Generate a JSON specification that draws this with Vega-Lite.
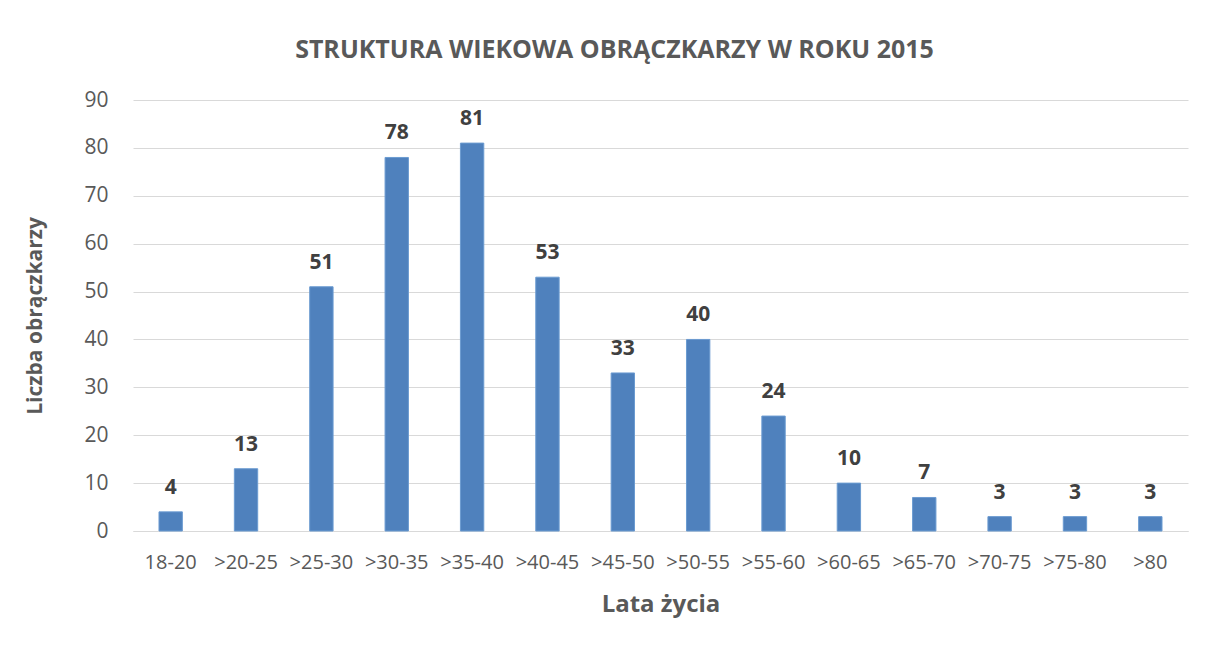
{
  "$schema": "https://vega.github.io/schema/vega-lite/v6.json",
  "autosize": {"type": "none"},
  "width": 1055,
  "height": 431,
  "padding": {"left": 133, "top": 100, "right": 19, "bottom": 116},
  "background": "white",
  "title": {
    "text": "STRUKTURA WIEKOWA OBRĄCZKARZY W ROKU 2015",
    "anchor": "middle",
    "frame": "group",
    "dx": -46,
    "offset": 26,
    "font": "Open Sans",
    "fontSize": 25,
    "fontWeight": "bold",
    "color": "#595959"
  },
  "data": {
    "values": [
      {"wiek": "18-20", "liczba": 4},
      {"wiek": ">20-25", "liczba": 13},
      {"wiek": ">25-30", "liczba": 51},
      {"wiek": ">30-35", "liczba": 78},
      {"wiek": ">35-40", "liczba": 81},
      {"wiek": ">40-45", "liczba": 53},
      {"wiek": ">45-50", "liczba": 33},
      {"wiek": ">50-55", "liczba": 40},
      {"wiek": ">55-60", "liczba": 24},
      {"wiek": ">60-65", "liczba": 10},
      {"wiek": ">65-70", "liczba": 7},
      {"wiek": ">70-75", "liczba": 3},
      {"wiek": ">75-80", "liczba": 3},
      {"wiek": ">80", "liczba": 3}
    ]
  },
  "encoding": {
    "x": {
      "field": "wiek",
      "type": "nominal",
      "sort": null,
      "scale": {"paddingInner": 0.69, "paddingOuter": 0.345},
      "axis": {
        "title": "Lata życia",
        "labelAngle": 0,
        "labelFont": "Open Sans",
        "labelFontSize": 20,
        "labelColor": "#595959",
        "labelPadding": 21,
        "ticks": false,
        "domainColor": "#d9d9d9",
        "domainWidth": 1,
        "titleFont": "Open Sans",
        "titleFontSize": 24,
        "titleFontWeight": "bold",
        "titleColor": "#595959",
        "titlePadding": 20
      }
    },
    "y": {
      "field": "liczba",
      "type": "quantitative",
      "scale": {"domain": [0, 90]},
      "axis": {
        "title": "Liczba obrączkarzy",
        "values": [0, 10, 20, 30, 40, 50, 60, 70, 80, 90],
        "labelFont": "Open Sans",
        "labelFontSize": 21,
        "labelColor": "#595959",
        "labelPadding": 25,
        "ticks": false,
        "domain": false,
        "gridColor": "#d9d9d9",
        "gridWidth": 1,
        "titleFont": "Open Sans",
        "titleFontSize": 21,
        "titleFontWeight": "bold",
        "titleColor": "#595959",
        "titlePadding": 38
      }
    }
  },
  "layer": [
    {"mark": {"type": "bar", "color": "#4f81bd", "stroke": "#6b9bd1", "strokeWidth": 1}},
    {
      "mark": {"type": "text", "baseline": "alphabetic", "dy": -18, "font": "Open Sans", "fontSize": 21, "fontWeight": "bold", "color": "#404040"},
      "encoding": {"text": {"field": "liczba", "type": "quantitative"}}
    }
  ],
  "config": {"view": {"stroke": null}}
}
